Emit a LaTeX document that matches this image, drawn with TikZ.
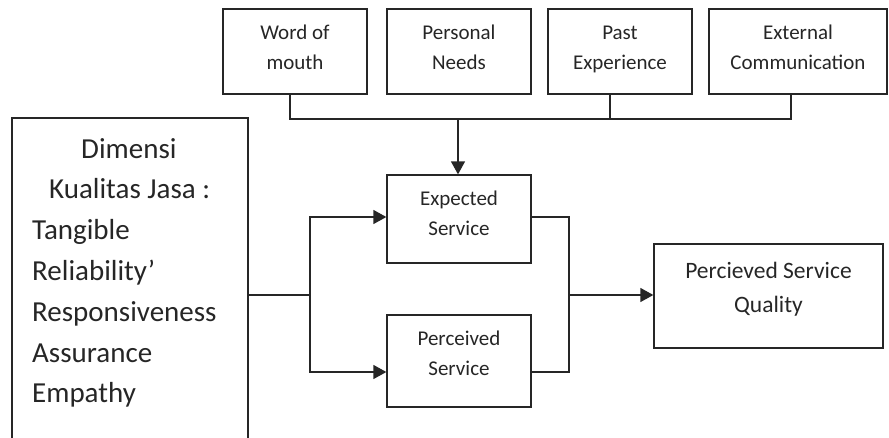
\documentclass[tikz,border=0pt]{standalone}
\usepackage{fontspec}
\setmainfont{Carlito}
\usetikzlibrary{arrows.meta}
\definecolor{ink}{HTML}{262626}
\newcommand{\twol}[3]{\strut #1\\\strut #2\rule[-#3]{0pt}{0pt}}
\begin{document}
\begin{tikzpicture}[x=1pt,y=-1pt,
  box/.style={draw=ink, line width=1.3pt, rectangle, inner sep=0pt, align=center, text=ink},
  small/.style={font=\fontsize{21}{30}\selectfont},
  conn/.style={draw=ink, line width=1.3pt},
  arr/.style={conn, -{Triangle[length=13pt,width=14pt]}},
  lt/.style={anchor=base west, inner sep=0pt, text=ink, font=\fontsize{29}{40}\selectfont}]
\useasboundingbox (0,0) rectangle (889,437);
% top boxes
\node[box, small, minimum width=144pt, minimum height=85pt] (wom) at (295,51.5) {\twol{Word of}{mouth}{16pt}};
\node[box, small, minimum width=144pt, minimum height=85pt] (pn) at (459,51.5) {\twol{Personal}{Needs}{16pt}};
\node[box, small, minimum width=144pt, minimum height=85pt] (pe) at (620,51.5) {\twol{Past}{Experience}{16pt}};
\node[box, small, minimum width=178pt, minimum height=85pt] (ec) at (798,51.5) {\twol{External}{Communication}{16pt}};
% middle boxes
\node[box, small, minimum width=144pt, minimum height=88pt] (es) at (459,219) {\twol{Expected}{Service}{19pt}};
\node[box, small, minimum width=144pt, minimum height=92pt] (ps) at (459,361) {\twol{Perceived}{Service}{22pt}};
\node[box, font=\fontsize{23.5}{34}\selectfont, minimum width=229pt, minimum height=104pt] (psq) at (768.5,296) {\twol{Percieved Service}{Quality}{24pt}};
% left box
\node[box, minimum width=236pt, minimum height=321pt] (dim) at (130,278.5) {};
\node[lt] (d1) at (81,158) {Dimensi};
\node[lt] (d2) at (49,198.8) {Kualitas Jasa :};
\node[lt] (d3) at (32,239.6) {Tangible};
\node[lt] (d4) at (32,280.4) {Reliability’};
\node[lt] (d5) at (32,321.2) {Responsiveness};
\node[lt] (d6) at (32,362) {Assurance};
\node[lt] (d7) at (32,402.8) {Empathy};
% bus from top boxes
\coordinate (bus) at (458,119);
\draw[conn] ([xshift=-5pt]wom.south) |- ([xshift=-7pt]ec.south |- bus) -- ([xshift=-7pt]ec.south);
\draw[conn] ([xshift=-10pt]pe.south) -- ([xshift=-10pt]pe.south |- bus);
\draw[arr] (bus) -- (bus |- es.north);
% left junction
\coordinate (lj) at (310,295);
\draw[conn] (dim.east |- lj) -- (lj);
\draw[arr] (lj) |- ([yshift=2pt]es.west);
\draw[arr] (lj) |- ([yshift=-11pt]ps.west);
% right junction
\coordinate (rj) at (569,295);
\draw[conn] ([yshift=2pt]es.east) -| (rj);
\draw[conn] ([yshift=-11pt]ps.east) -| (rj);
\draw[arr] (rj) -- (psq.west |- rj);
\end{tikzpicture}
\end{document}
